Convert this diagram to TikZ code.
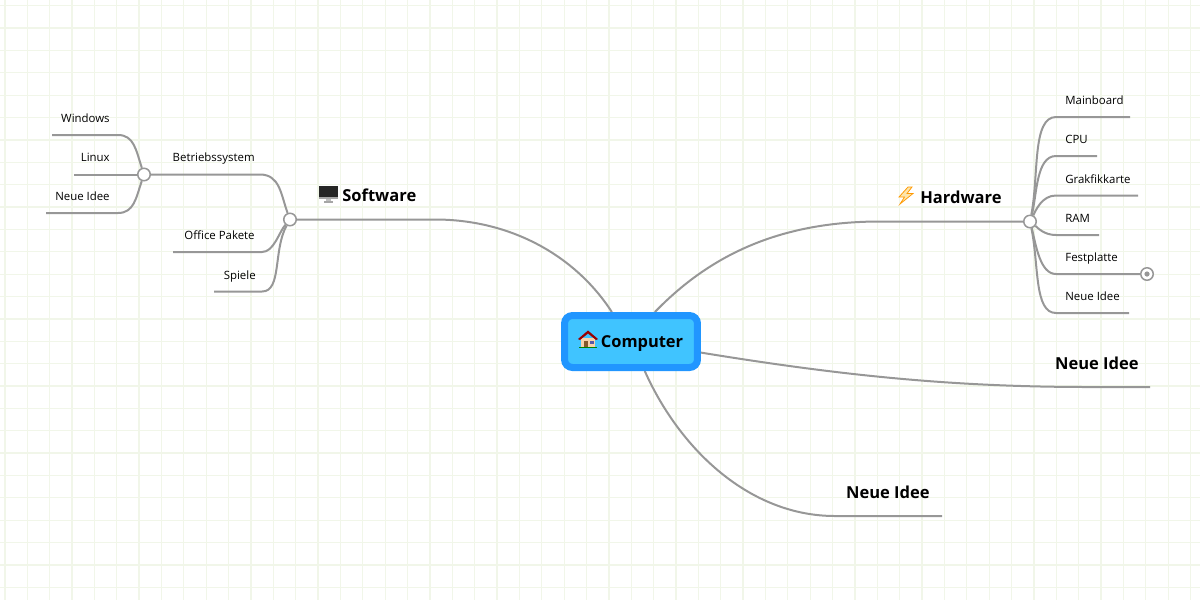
\documentclass[tikz,border=0pt]{standalone}
\usepackage{fontspec}
\setmainfont{Open Sans}
\usetikzlibrary{positioning,calc,backgrounds}
\definecolor{gridc}{HTML}{F1F6E9}
\definecolor{linec}{HTML}{979797}
\definecolor{rootb}{HTML}{2196FF}
\definecolor{rootf}{HTML}{40C4FF}
\tikzset{
	bigt/.style={font=\fontsize{9.4pt}{11pt}\selectfont\bfseries, inner sep=0pt},
	smallt/.style={font=\fontsize{6.5pt}{8pt}\selectfont, inner sep=0pt},
	branch/.style={draw=linec, line width=0.04cm},
	hub/.style={circle, draw=linec, fill=white, line width=0.03cm, minimum size=0.25cm, inner sep=0pt},
	rootbox/.style={draw=rootb, fill=rootf, line width=0.14cm, rounded corners=0.16cm, minimum width=2.66cm, minimum height=1.04cm, inner sep=0pt}
}

\begin{document}
\begin{tikzpicture}[x=0.02cm, y=-0.02cm]
	\useasboundingbox (0,0) rectangle (1200,600);

	% nodes
	\node[rootbox, bigt, font=\fontsize{9.35pt}{11pt}\selectfont\bfseries] (root) at (631,341.5) {\hspace{0.44cm}\raisebox{-0.11cm}[0pt][0pt]{Computer}};
	\node[hub] (sw) at (290,219.5) {};
	\node[hub] (hw) at (1030,221.5) {};
	\node[hub] (os) at (144,174.5) {};
	\node[hub] (fold) at (1147,274) {};
	\fill[linec] (fold) circle (2.6);

	\node[bigt, anchor=mid west] (swt) at (342,197) {Software};
	\node[bigt, anchor=mid west] (hwt) at (920,199) {Hardware};
	\node[bigt, anchor=mid east] (ni1t) at (1139,365) {Neue Idee};
	\node[bigt, anchor=mid east] (ni2t) at (930,494) {Neue Idee};

	\node[smallt, anchor=mid east] (ost) at (255,157) {Betriebssystem};
	\node[smallt, anchor=mid east] (oft) at (255,235) {Office Pakete};
	\node[smallt, anchor=mid east] (spt) at (256,275) {Spiele};
	\node[smallt, anchor=mid east] (wit) at (110,118) {Windows};
	\node[smallt, anchor=mid east] (lit) at (110,157) {Linux};
	\node[smallt, anchor=mid east] (nit) at (110,196) {Neue Idee};

	\node[smallt, anchor=mid west] (mbt) at (1065,100) {Mainboard};
	\node[smallt, anchor=mid west] (cpt) at (1065,139) {CPU};
	\node[smallt, anchor=mid west] (grt) at (1065,179) {Grakfikkarte};
	\node[smallt, anchor=mid west] (rat) at (1065,218) {RAM};
	\node[smallt, anchor=mid west] (fet) at (1065,257) {Festplatte};
	\node[smallt, anchor=mid west] (net) at (1065,296) {Neue Idee};

	% free ends
	\coordinate (ni1e) at (1150,387);
	\coordinate (ni2e) at (942,516);
	\coordinate (ofe) at (173,252);
	\coordinate (spe) at (214,291.5);
	\coordinate (wie) at (52,135);
	\coordinate (lie) at (74,174.5);
	\coordinate (nie) at (46,213);
	\coordinate (mbe) at (1130,117);
	\coordinate (cpe) at (1097,156);
	\coordinate (gre) at (1138,195.5);
	\coordinate (rae) at (1099,235);
	\coordinate (nee) at (1129,313);

	\begin{pgfonlayer}{background}
		\foreach \i in {0,...,53} \draw[gridc, line width=0.025cm] (4.9+22.37*\i,0) -- (4.9+22.37*\i,600);
		\foreach \i in {0,...,26} \draw[gridc, line width=0.025cm] (0,5.7+22.37*\i) -- (1200,5.7+22.37*\i);

		\draw[branch] (root.123) .. controls (575,255) and (510,219.5) .. (435,219.5) -- (sw);
		\draw[branch] (root.51) .. controls (710,255) and (780,221.5) .. (880,221.5) -- (hw);
		\draw[branch] (root.-9) .. controls (850,377) and (960,387) .. (1090,387) -- (ni1e);
		\draw[branch] (root.-65) .. controls (680,450) and (750,516) .. (835,516) -- (ni2e);

		\draw[branch] (os) -- (260,174.5) .. controls (280,174.5) and (281,195) .. (sw);
		\draw[branch] (ofe) -- (262,252) .. controls (274,252) and (279,232) .. (sw);
		\draw[branch] (spe) -- (262,291.5) .. controls (282,291.5) and (273,250) .. (sw);
		\draw[branch] (wie) -- (118,135) .. controls (134,135) and (136,150) .. (os);
		\draw[branch] (lie) -- (os);
		\draw[branch] (nie) -- (118,213) .. controls (134,213) and (136,198) .. (os);

		\draw[branch] (hw) .. controls (1039,175) and (1032,117) .. (1056,117) -- (mbe);
		\draw[branch] (hw) .. controls (1037,195) and (1036,156) .. (1056,156) -- (cpe);
		\draw[branch] (hw) .. controls (1036,210) and (1042,195.5) .. (1056,195.5) -- (gre);
		\draw[branch] (hw) .. controls (1038,228) and (1044,235) .. (1056,235) -- (rae);
		\draw[branch] (hw) .. controls (1036,245) and (1040,274) .. (1056,274) -- (fold);
		\draw[branch] (hw) .. controls (1039,265) and (1034,313) .. (1056,313) -- (nee);
	\end{pgfonlayer}

	% house
	\fill[brown!25!orange!35] (581,338) rectangle (595,347);
	\fill[red!60!black] (578,339) -- (588,330.5) -- (598,339) -- (596,340) -- (588,333.5) -- (580,340) -- cycle;
	\fill[brown!70!black] (584,341) rectangle (588,347);
	\fill[gray!70!blue] (590,341) rectangle (594,344);
	\fill[green!50!black] (579,347) rectangle (597,348);

	% monitor
	\fill[black!85] (319,186) rectangle (338,197);
	\fill[gray!70] (319,197) rectangle (338,199);
	\fill[gray!50] (326,199) rectangle (331,201);
	\fill[gray!70] (324,201) rectangle (333,202.5);

	% bolt
	\filldraw[draw=orange!80!yellow, fill=yellow!40!orange!30, line width=0.015cm]
		(908,187) -- (899,197) -- (904.5,197) -- (900,204) -- (913,193.5) -- (907,193.5) -- (912,187) -- cycle;
\end{tikzpicture}
\end{document}
